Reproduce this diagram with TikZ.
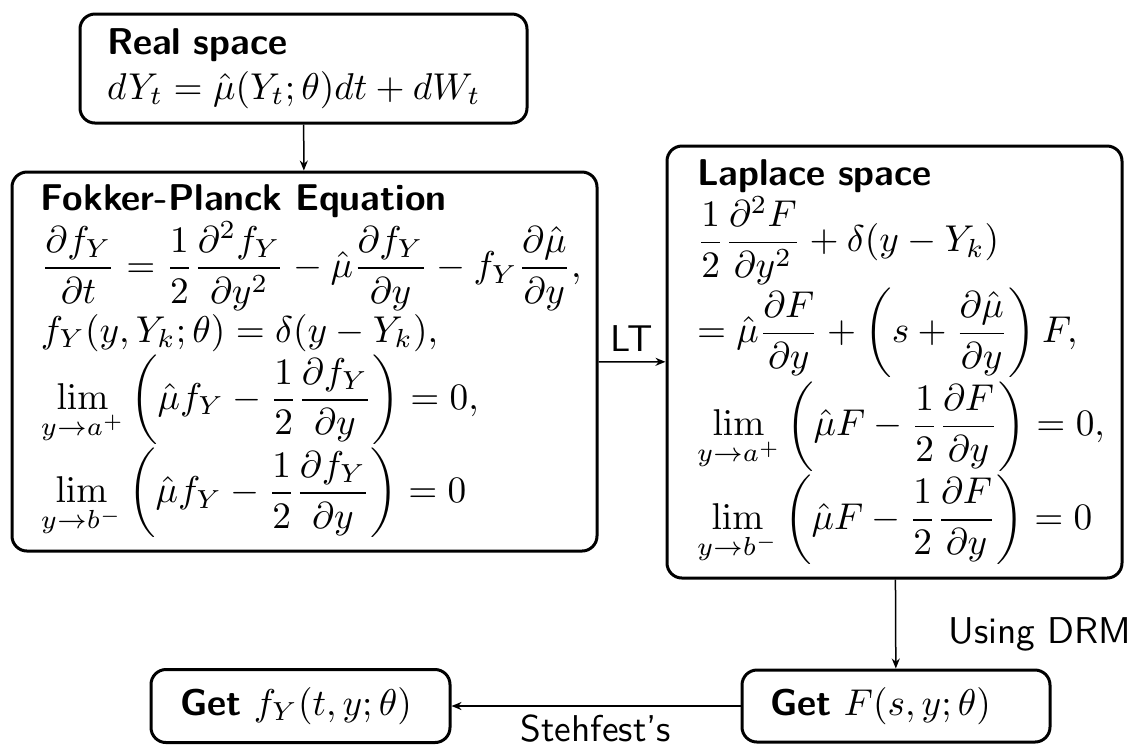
\documentclass[tikz,border=0pt]{standalone}
\usepackage{amsmath}
\usetikzlibrary{arrows.meta}
\def\u{0.268pt}
\newcommand{\ml}[1]{\mbox{$\displaystyle #1$}}
\begin{document}
\begin{tikzpicture}[x=0.268pt,y=-0.268pt,
  box/.style={draw, line width=3*\u, rounded corners=15*\u, align=left, inner ysep=0pt, font=\sffamily},
  conn/.style={line width=1.5*\u, -{Stealth[length=10*\u,width=8*\u]}},
  lbl/.style={font=\sffamily, inner sep=0pt}]
\useasboundingbox (0,0) rectangle (1132,746);
\node[box, minimum width=447*\u, minimum height=109*\u, text width={(447-54)*\u}, inner xsep=27*\u] (real) at (303.5,68.5)
{\textbf{Real space}\\ \ml{dY_t=\hat\mu(Y_t;\theta)dt+dW_t}};
\node[box, minimum width=585*\u, minimum height=379*\u, text width={(585-58)*\u}, inner xsep=29*\u] (fp) at (304.5,361.5)
{\textbf{Fokker-Planck Equation}\\
\ml{\frac{\partial f_Y}{\partial t}=\frac12\frac{\partial^2 f_Y}{\partial y^2}-\hat\mu\frac{\partial f_Y}{\partial y}-f_Y\frac{\partial\hat\mu}{\partial y},}\\
\ml{f_Y(y,Y_k;\theta)=\delta(y-Y_k),}\\
\ml{\lim_{y\to a^+}\left(\hat\mu f_Y-\frac12\frac{\partial f_Y}{\partial y}\right)=0,}\\
\ml{\lim_{y\to b^-}\left(\hat\mu f_Y-\frac12\frac{\partial f_Y}{\partial y}\right)=0}};
\node[box, minimum width=455*\u, minimum height=432*\u, text width={(455-60)*\u}, inner xsep=30*\u] (lap) at (894.5,362)
{\textbf{Laplace space}\\
\ml{\frac12\frac{\partial^2 F}{\partial y^2}+\delta(y-Y_k)}\\
\ml{=\hat\mu\frac{\partial F}{\partial y}+\left(s+\frac{\partial\hat\mu}{\partial y}\right)F,}\\
\ml{\lim_{y\to a^+}\left(\hat\mu F-\frac12\frac{\partial F}{\partial y}\right)=0,}\\
\ml{\lim_{y\to b^-}\left(\hat\mu F-\frac12\frac{\partial F}{\partial y}\right)=0}};
\node[box, minimum width=308*\u, minimum height=72*\u, text width={(308-56)*\u}, inner xsep=28*\u] (getF) at (896,706)
{\mbox{\textbf{Get} $F(s,y;\theta)$}};
\node[box, minimum width=299*\u, minimum height=73*\u, text width={(299-58)*\u}, inner xsep=29*\u] (getf) at (300.5,706)
{\mbox{\textbf{Get} $f_Y(t,y;\theta)$}};
\draw[conn] (real) -- (fp);
\draw[conn] (fp) -- node[lbl, above=10*\u] {LT} (lap);
\draw[conn] (lap) -- node[lbl, right=52*\u, yshift=-10*\u] {Using DRM} (getF);
\draw[conn] (getF) -- node[lbl, below=8*\u] {Stehfest's} (getf);
\end{tikzpicture}
\end{document}
